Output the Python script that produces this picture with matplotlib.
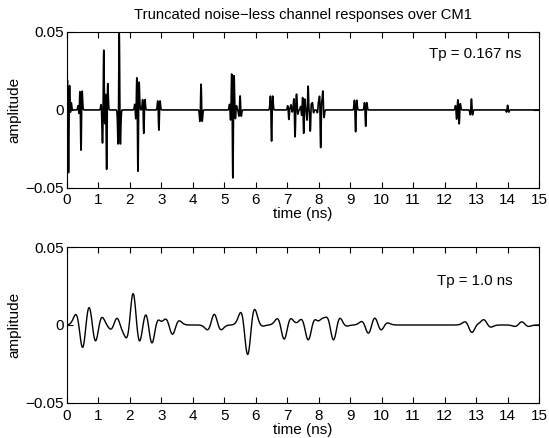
#!/usr/bin/env python3

# program to draw the truncated noise-less channel responses over CM1
# for two pulse widths (Tp = 0.167 ns and Tp = 1.0 ns)

import numpy as np
import matplotlib

matplotlib.use("Agg")
import matplotlib.pyplot as plt

plt.rcParams["font.family"] = ["Liberation Sans", "DejaVu Sans"]
plt.rcParams["font.size"] = 11
plt.rcParams["path.simplify"] = False  # keep every narrow spike

# multipath arrivals (Tp = 0.167 ns)
top_times = [0.05, 0.10, 0.39, 0.445,
             1.12, 1.17, 1.26, 1.66,
             2.19, 2.255, 2.44, 2.92,
             4.26, 5.20, 5.27, 5.35, 5.50, 6.50,
             7.05, 7.12, 7.245, 7.30, 7.46, 7.52, 7.66, 7.73, 7.80,
             7.99, 8.06, 8.13, 9.17, 9.49,
             12.38, 12.46, 12.85, 14.00]
top_amps = [-0.043, -0.010, -0.006, -0.027,
            -0.008, 0.036, -0.038, 0.049,
            -0.008, -0.040, -0.015, -0.013,
            0.0165, -0.008, -0.044, -0.006, 0.009, -0.020,
            -0.006, 0.003, -0.016, 0.006, -0.005, -0.0156, 0.0147, -0.0128, 0.004,
            0.004, -0.0235, 0.011, -0.014, -0.0105,
            -0.006, -0.009, 0.007, 0.003]

# pulse components (Tp = 1.0 ns)
bot_times = [0.50, 0.90, 1.60, 1.85, 2.10, 2.50, 2.70, 2.95, 3.35,
             4.68, 5.74, 5.98, 6.90, 7.66, 7.90, 8.10, 8.30, 8.46, 8.65,
             9.58, 9.78, 9.97, 12.86, 13.25, 14.45]
bot_amps = [-0.015, -0.011, 0.006, 0.004, 0.022, 0.003, -0.011, -0.002, -0.006,
            0.0068, -0.018, 0.002, -0.009, -0.008, 0.003, 0.0065, 0.005, -0.0065, 0.002,
            -0.005, 0.001, -0.003, -0.0045, 0.003, 0.002]

x_ticks = list(range(0, 16))
y_ticks = [-0.05, 0, 0.05]
y_ticklabels = ["\u22120.05", "0", "0.05"]


def response(times, amps, tp, dt):
    """sum of gaussian-monocycle pulses placed at the arrival times"""
    t = np.arange(0, 15 + dt / 2, dt)
    s = 0.127 * tp
    y = np.zeros_like(t)
    for tau, a in zip(times, amps):
        u = (t - tau) / s
        y += a * (1 - u**2) * np.exp(-(u**2) / 2)
    return t, y


# end of response()


def style(ax):
    """matlab look: box, inward ticks on all sides"""
    ax.set_xlim(0, 15)
    ax.set_ylim(-0.05, 0.05)
    ax.set_xticks(x_ticks)
    ax.set_yticks(y_ticks)
    ax.set_yticklabels(y_ticklabels)
    ax.tick_params(direction="in", length=4, width=0.8, top=True, right=True,
                   labelsize=11, pad=2)
    ax.tick_params(axis="x", pad=4)
    for sp in ax.spines.values():
        sp.set_linewidth(0.8)
    ax.set_xlabel("time (ns)", labelpad=0)
    ax.set_ylabel("amplitude", labelpad=3)


# end of style()


fig = plt.figure(figsize=(5.49, 4.38), dpi=100)
ax1 = fig.add_axes([0.122, 0.571, 0.860, 0.356])
ax2 = fig.add_axes([0.122, 0.080, 0.860, 0.356])

t1, y1 = response(top_times, top_amps, 0.167, 0.002)
ax1.plot(t1, y1, color="black", linewidth=1.2)
style(ax1)
ax1.set_title("Truncated noise\u2212less channel responses over CM1", fontsize=10.6, pad=9)
ax1.text(11.5, 0.036, "Tp = 0.167 ns", fontsize=10.8, va="center")

t2, y2 = response(bot_times, bot_amps, 1.0, 0.005)
ax2.plot(t2, y2, color="black", linewidth=1.0)
style(ax2)
ax2.text(11.75, 0.028, "Tp = 1.0 ns", fontsize=10.8, va="center")

fig.savefig("out.png", dpi=100)
